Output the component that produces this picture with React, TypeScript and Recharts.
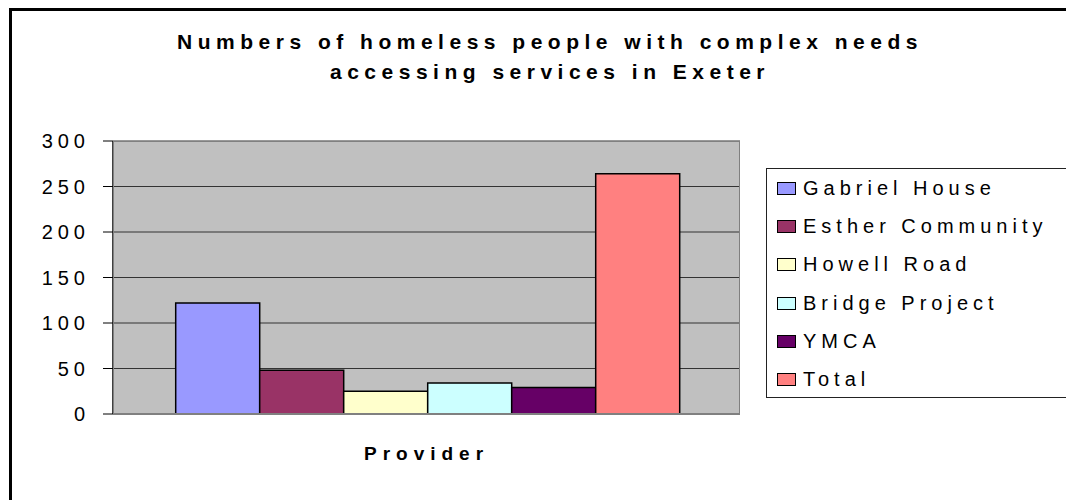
import React from "react";
import { BarChart, Bar, XAxis, YAxis, CartesianGrid } from "recharts";

const providers = ["Gabriel House", "Esther Community", "Howell Road", "Bridge Project", "YMCA", "Total"];
const counts = [122, 48, 25, 34, 29, 264];
const yTicks = [0, 50, 100, 150, 200, 250, 300];
const category = "Provider";

const colors = ["#9999FF", "#993366", "#FFFFCC", "#CCFFFF", "#660066", "#FF8080"];
const FONT = "'Liberation Sans', Arial, sans-serif";

const row: Record<string, string | number> = { name: category };
providers.forEach((p, i) => {
  row[p] = counts[i];
});
const data = [row];

// legend drawn as html so it doesn't eat into the plot area
function LegendBox() {
  return (
    <div
      style={{
        position: "absolute",
        left: 766,
        top: 168,
        width: 320,
        height: 230,
        border: "1px solid #222",
        borderRight: "none",
        boxSizing: "border-box",
        background: "#fff",
      }}
    >
      {providers.map((p, i) => (
        <div key={p} style={{ display: "flex", alignItems: "center", height: 38.3, paddingLeft: 10 }}>
          <span
            style={{
              width: 17,
              height: 11,
              background: colors[i],
              border: "1.5px solid #000",
              marginRight: 7,
              flex: "none",
            }}
          />
          <span style={{ fontFamily: FONT, fontSize: 20, letterSpacing: 5, color: "#000", whiteSpace: "nowrap" }}>
            {p}
          </span>
        </div>
      ))}
    </div>
  );
}

export default function App() {
  return (
    <div
      style={{
        position: "absolute",
        left: 0,
        top: 0,
        width: 1066,
        height: 500,
        overflow: "hidden",
        background: "#fff",
      }}
    >
      <div
        style={{
          position: "absolute",
          left: 9,
          top: 8,
          width: 1100,
          height: 520,
          border: "3px solid #000",
          boxSizing: "border-box",
        }}
      />
      <div
        style={{
          position: "absolute",
          left: 0,
          width: 1100,
          top: 27,
          textAlign: "center",
          fontFamily: FONT,
          fontWeight: "bold",
          fontSize: 21,
          letterSpacing: 5.5,
          lineHeight: "30px",
        }}
      >
        Numbers of homeless people with complex needs
        <br />
        accessing services in Exeter
      </div>
      <div style={{ position: "absolute", left: 0, top: 0 }}>
        <BarChart
          width={1066}
          height={500}
          data={data}
          margin={{ top: 141, right: 326, left: 0, bottom: 46 }}
          barCategoryGap="10%"
          barGap={0}
        >
          <CartesianGrid vertical={false} fill="#C0C0C0" stroke="#333" fillOpacity={1} />
          <XAxis
            dataKey="name"
            tick={false}
            tickLine={false}
            axisLine={{ stroke: "#808080", strokeWidth: 2 }}
            height={40}
            label={{
              value: category,
              position: "insideBottom",
              offset: -6,
              style: { fontFamily: FONT, fontWeight: "bold", fontSize: 19, letterSpacing: 6, fill: "#000" },
            }}
          />
          <YAxis
            domain={[0, 300]}
            ticks={yTicks}
            width={113}
            interval={0}
            axisLine={{ stroke: "#000", strokeWidth: 1.5 }}
            tickLine={{ stroke: "#000" }}
            tickSize={10}
            tickMargin={13}
            tick={{ fontFamily: FONT, fontSize: 20, letterSpacing: 5, fill: "#000" }}
          />
          {providers.map((p, i) => (
            <Bar
              key={p}
              dataKey={p}
              fill={colors[i]}
              stroke="#000"
              strokeWidth={1.5}
              isAnimationActive={false}
            />
          ))}
        </BarChart>
      </div>
      <div
        style={{
          position: "absolute",
          left: 113,
          top: 141,
          width: 627,
          height: 273,
          border: "1px solid #808080",
          boxSizing: "border-box",
          pointerEvents: "none",
        }}
      />
      <LegendBox />
    </div>
  );
}
